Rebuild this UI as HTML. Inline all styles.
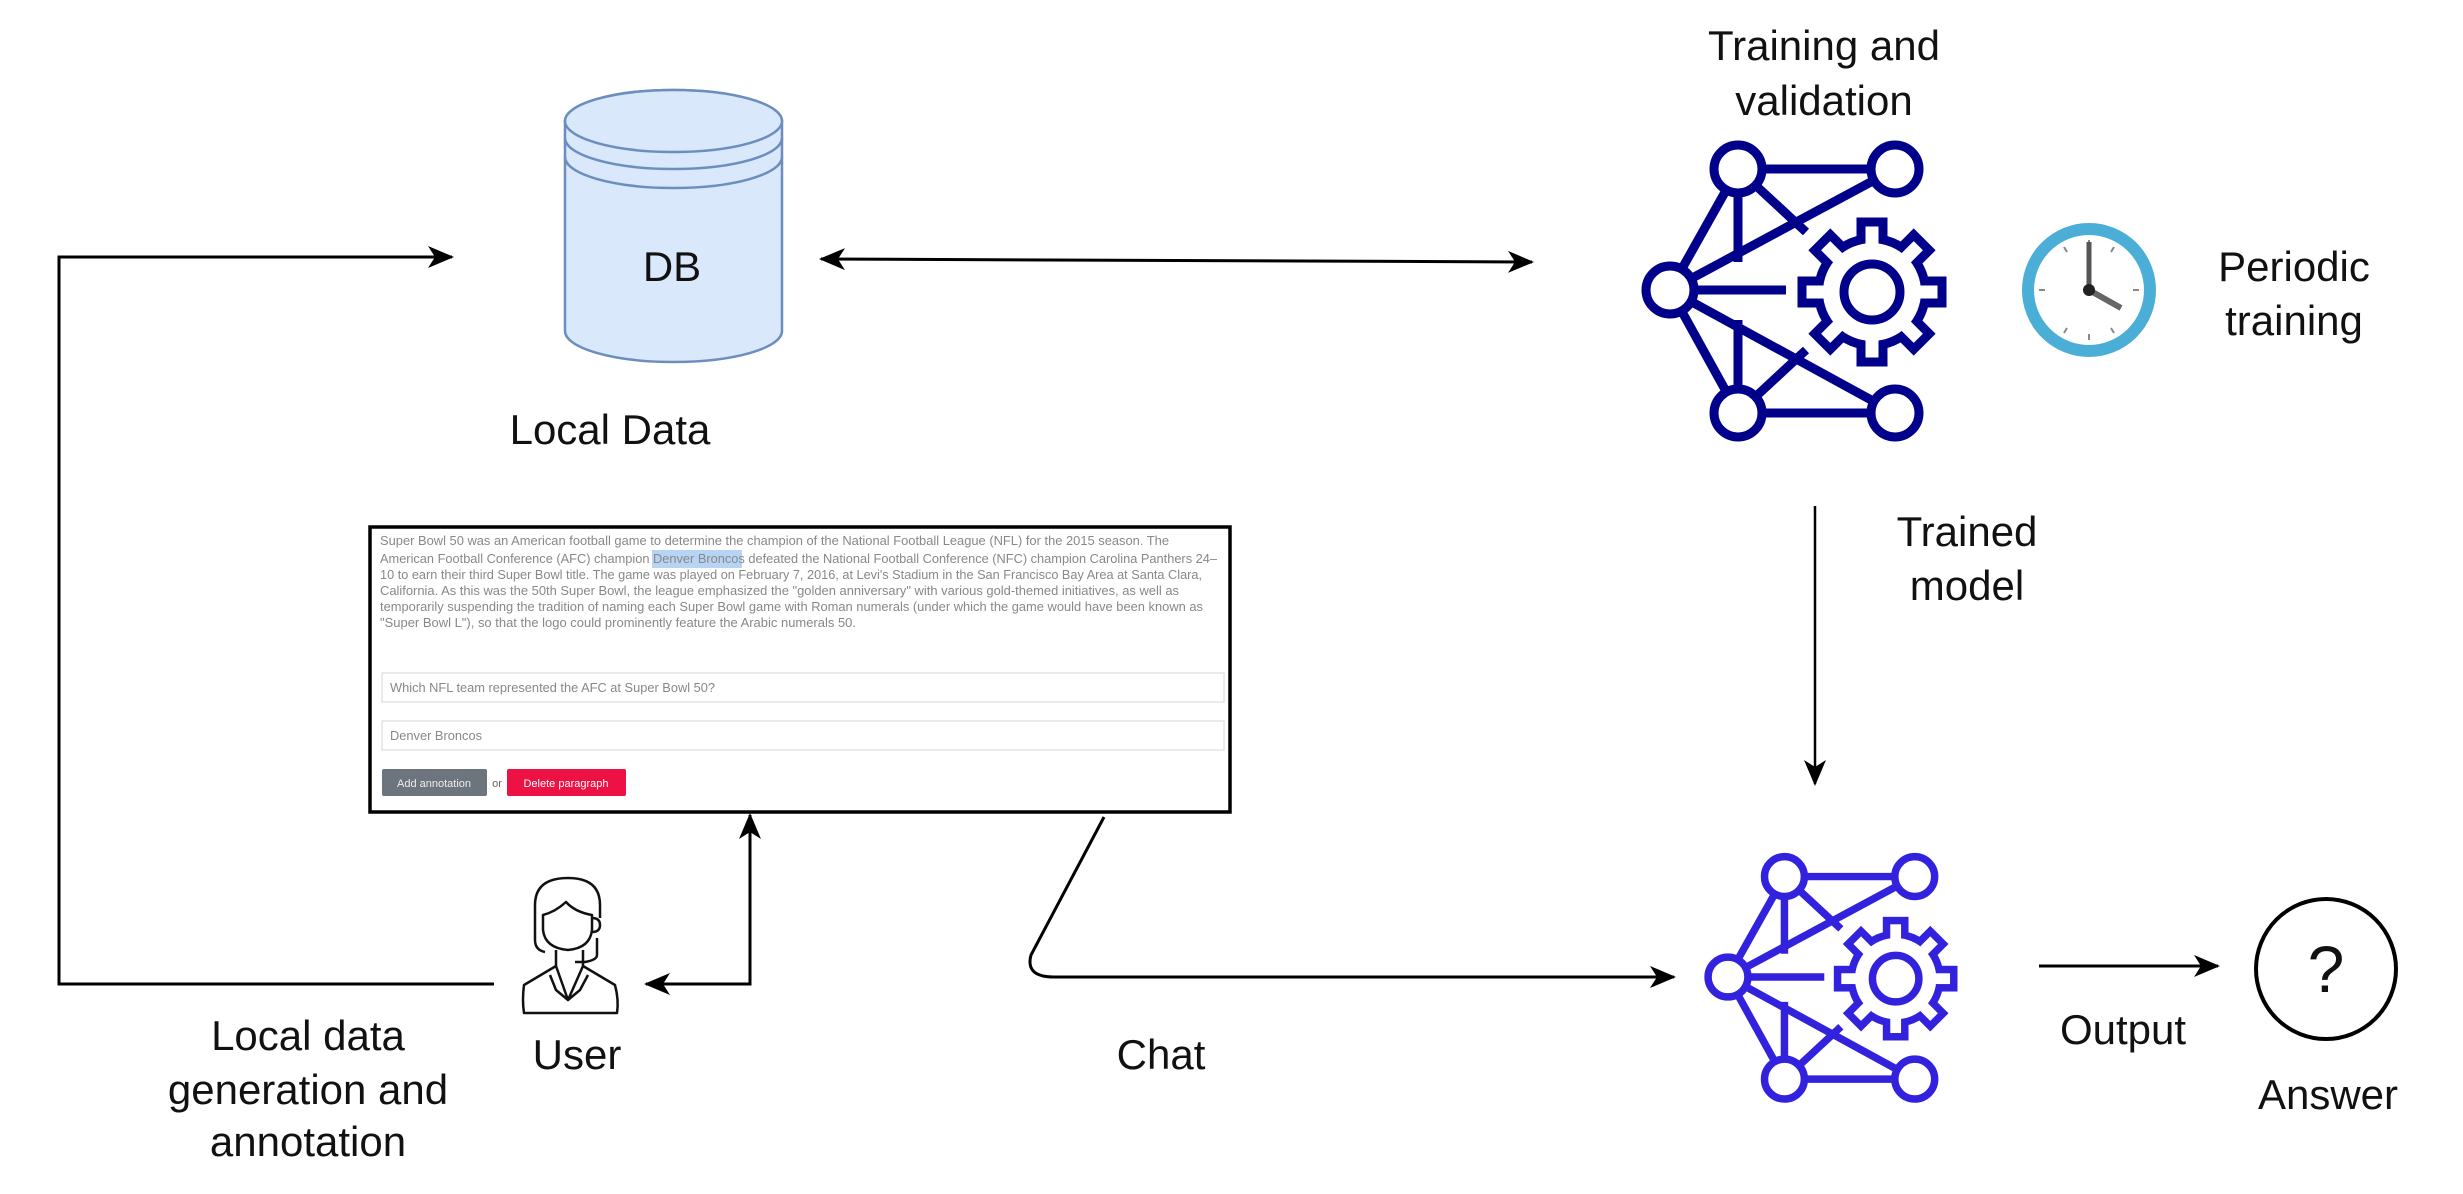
<!DOCTYPE html>
<html><head><meta charset="utf-8">
<style>
html,body{margin:0;padding:0;background:#fff;}
svg{display:block;}
.t{font-family:"Liberation Sans Narrow","Liberation Sans",sans-serif;font-size:42px;fill:#111;text-anchor:middle;}
.s{font-family:"Liberation Sans",sans-serif;font-size:12.5px;fill:#888;}
</style></head>
<body>
<svg width="2463" height="1194" viewBox="0 0 2463 1194" xmlns="http://www.w3.org/2000/svg">
<defs>
<marker id="ah" markerWidth="10" markerHeight="10" refX="9" refY="5" orient="auto-start-reverse" markerUnits="userSpaceOnUse" viewBox="0 0 10 10">
<path d="M0,0 L10,5 L0,10 L3,5 Z" fill="#000"/>
</marker>
<marker id="ahb" markerWidth="26" markerHeight="26" refX="24" refY="13" orient="auto-start-reverse" markerUnits="userSpaceOnUse" viewBox="0 0 26 26">
<path d="M0,2 L26,13 L0,24 L7,13 Z" fill="#000"/>
</marker>
<g id="net">
 <g stroke="currentColor" stroke-width="9" fill="none" stroke-linecap="butt">
  <line x1="1738" y1="169" x2="1895" y2="169"/>
  <line x1="1738" y1="413" x2="1895" y2="413"/>
  <line x1="1670" y1="290" x2="1738" y2="169"/>
  <line x1="1670" y1="290" x2="1738" y2="413"/>
  <line x1="1670" y1="290" x2="1895" y2="169"/>
  <line x1="1670" y1="290" x2="1895" y2="413"/>
  <line x1="1738" y1="169" x2="1738" y2="262"/>
  <line x1="1738" y1="413" x2="1738" y2="320"/>
  <line x1="1738" y1="169" x2="1806" y2="232"/>
  <line x1="1738" y1="413" x2="1806" y2="350"/>
  <line x1="1670" y1="290" x2="1786" y2="290"/>
 </g>
 <g fill="#fff" stroke="currentColor" stroke-width="9">
  <circle cx="1670" cy="290" r="24"/>
  <circle cx="1738" cy="169" r="24"/>
  <circle cx="1895" cy="169" r="24"/>
  <circle cx="1738" cy="413" r="24"/>
  <circle cx="1895" cy="413" r="24"/>
 </g>
 <g transform="translate(1872,292)">
  <g fill="currentColor">
   <circle r="58"/>
   <rect x="-15.5" y="-74.5" width="31" height="35" transform="rotate(0)"/>
   <rect x="-15.5" y="-74.5" width="31" height="35" transform="rotate(45)"/>
   <rect x="-15.5" y="-74.5" width="31" height="35" transform="rotate(90)"/>
   <rect x="-15.5" y="-74.5" width="31" height="35" transform="rotate(135)"/>
   <rect x="-15.5" y="-74.5" width="31" height="35" transform="rotate(180)"/>
   <rect x="-15.5" y="-74.5" width="31" height="35" transform="rotate(225)"/>
   <rect x="-15.5" y="-74.5" width="31" height="35" transform="rotate(270)"/>
   <rect x="-15.5" y="-74.5" width="31" height="35" transform="rotate(315)"/>
  </g>
  <g fill="#fff">
   <circle r="49"/>
   <rect x="-6.5" y="-65.5" width="13" height="30" transform="rotate(0)"/>
   <rect x="-6.5" y="-65.5" width="13" height="30" transform="rotate(45)"/>
   <rect x="-6.5" y="-65.5" width="13" height="30" transform="rotate(90)"/>
   <rect x="-6.5" y="-65.5" width="13" height="30" transform="rotate(135)"/>
   <rect x="-6.5" y="-65.5" width="13" height="30" transform="rotate(180)"/>
   <rect x="-6.5" y="-65.5" width="13" height="30" transform="rotate(225)"/>
   <rect x="-6.5" y="-65.5" width="13" height="30" transform="rotate(270)"/>
   <rect x="-6.5" y="-65.5" width="13" height="30" transform="rotate(315)"/>
  </g>
  <circle r="28" fill="none" stroke="currentColor" stroke-width="9"/>
 </g>
</g>
</defs>

<!-- DB cylinder -->
<g stroke="#6c8ebf" stroke-width="2.5" fill="#dae8fc">
 <path d="M565,121 L565,331 A108.5,31 0 0 0 782,331 L782,121 A108.5,31 0 0 0 565,121 Z"/>
 <ellipse cx="673.5" cy="121" rx="108.5" ry="31"/>
 <path d="M565,138 A108.5,31 0 0 0 782,138" fill="none"/>
 <path d="M565,157 A108.5,31 0 0 0 782,157" fill="none"/>
</g>
<text x="672" y="281" style="font-family:'Liberation Sans',sans-serif;font-size:42px;text-anchor:middle;fill:#111">DB</text>
<text class="t" x="610" y="444">Local Data</text>

<!-- left loop connector -->
<polyline points="494,984 59,984 59,257 452,257" fill="none" stroke="#000" stroke-width="3" marker-end="url(#ahb)"/>
<!-- DB <-> training -->
<line x1="821" y1="259" x2="1532" y2="262" stroke="#000" stroke-width="3" marker-start="url(#ahb)" marker-end="url(#ahb)"/>

<!-- top network -->
<use href="#net" style="color:#00008b"/>
<text class="t" x="1824" y="60">Training and</text>
<text class="t" x="1824" y="115">validation</text>

<!-- clock -->
<circle cx="2089" cy="290" r="61" fill="#fff" stroke="#4aaed6" stroke-width="12"/>
<g stroke="#888" stroke-width="2">
 <line x1="2089" y1="240" x2="2089" y2="246"/><line x1="2089" y1="334" x2="2089" y2="340"/>
 <line x1="2039" y1="290" x2="2045" y2="290"/><line x1="2133" y1="290" x2="2139" y2="290"/>
 <line x1="2064" y1="247" x2="2067" y2="252"/><line x1="2114" y1="247" x2="2111" y2="252"/>
 <line x1="2064" y1="333" x2="2067" y2="328"/><line x1="2114" y1="333" x2="2111" y2="328"/>
</g>
<line x1="2089" y1="290" x2="2089" y2="242" stroke="#555" stroke-width="5"/>
<line x1="2089" y1="290" x2="2121" y2="308" stroke="#666" stroke-width="6"/>
<circle cx="2089" cy="290" r="6" fill="#222"/>
<text class="t" x="2294" y="281">Periodic</text>
<text class="t" x="2294" y="335">training</text>

<!-- trained model arrow -->
<line x1="1815" y1="506" x2="1815" y2="784" stroke="#000" stroke-width="2.5" marker-end="url(#ahb)"/>
<text class="t" x="1967" y="546">Trained</text>
<text class="t" x="1967" y="600">model</text>

<!-- bottom network -->
<g transform="translate(1728,977) scale(0.83) translate(-1670,-290)">
 <use href="#net" style="color:#3322dd"/>
</g>

<!-- output -->
<line x1="2039" y1="966" x2="2218" y2="966" stroke="#000" stroke-width="3" marker-end="url(#ahb)"/>
<text class="t" x="2123" y="1044">Output</text>
<circle cx="2326" cy="969" r="70" fill="none" stroke="#000" stroke-width="4"/>
<text x="2326" y="992" style="font-family:'Liberation Sans',sans-serif;font-size:66px;text-anchor:middle;fill:#111">?</text>
<text class="t" x="2328" y="1109">Answer</text>

<!-- screenshot box -->
<rect x="370" y="527" width="860" height="285" fill="#fff" stroke="#000" stroke-width="3.5"/>
<rect x="652" y="550" width="90" height="18" fill="#b8d4f5"/>
<g class="s">
<text x="380" y="545" textLength="789" lengthAdjust="spacingAndGlyphs">Super Bowl 50 was an American football game to determine the champion of the National Football League (NFL) for the 2015 season. The</text>
<text x="380" y="563" textLength="837" lengthAdjust="spacingAndGlyphs">American Football Conference (AFC) champion Denver Broncos defeated the National Football Conference (NFC) champion Carolina Panthers 24–</text>
<text x="380" y="579" textLength="822" lengthAdjust="spacingAndGlyphs">10 to earn their third Super Bowl title. The game was played on February 7, 2016, at Levi's Stadium in the San Francisco Bay Area at Santa Clara,</text>
<text x="380" y="595" textLength="799" lengthAdjust="spacingAndGlyphs">California. As this was the 50th Super Bowl, the league emphasized the "golden anniversary" with various gold-themed initiatives, as well as</text>
<text x="380" y="611" textLength="823" lengthAdjust="spacingAndGlyphs">temporarily suspending the tradition of naming each Super Bowl game with Roman numerals (under which the game would have been known as</text>
<text x="380" y="627" textLength="476" lengthAdjust="spacingAndGlyphs">"Super Bowl L"), so that the logo could prominently feature the Arabic numerals 50.</text>
</g>
<rect x="382" y="673" width="842" height="29" fill="#fff" stroke="#e4e4e4" stroke-width="1.5"/>
<text class="s" x="390" y="692" textLength="325" lengthAdjust="spacingAndGlyphs">Which NFL team represented the AFC at Super Bowl 50?</text>
<rect x="382" y="721" width="842" height="29" fill="#fff" stroke="#e4e4e4" stroke-width="1.5"/>
<text class="s" x="390" y="740" textLength="92" lengthAdjust="spacingAndGlyphs">Denver Broncos</text>
<rect x="382" y="769" width="105" height="27" rx="2" fill="#6c757d"/>
<text x="434" y="787" style="font-family:'Liberation Sans',sans-serif;font-size:11px;fill:#eee;text-anchor:middle">Add annotation</text>
<text x="497" y="787" style="font-family:'Liberation Sans',sans-serif;font-size:11px;fill:#666;text-anchor:middle">or</text>
<rect x="507" y="769" width="119" height="27" rx="2" fill="#ee1144"/>
<text x="566" y="787" style="font-family:'Liberation Sans',sans-serif;font-size:11px;fill:#fff;text-anchor:middle">Delete paragraph</text>

<!-- user <-> screenshot -->
<polyline points="646,984 750,984 750,815" fill="none" stroke="#000" stroke-width="3" marker-start="url(#ahb)" marker-end="url(#ahb)"/>

<!-- user icon -->
<g fill="none" stroke="#111" stroke-width="2.5" stroke-linejoin="round">
 <path d="M545,952 Q535,950 535,940 L535,905 Q535,878 568,878 Q600,878 600,905 L600,918"/>
 <path d="M543,915 Q555,912 566,902 Q575,912 592,915 L592,930 Q590,948 568,950 Q545,948 543,930 Z"/>
 <path d="M592,918 Q600,918 600,925 Q600,932 592,932"/>
 <path d="M597,938 L597,955 Q597,960 585,962 L575,962"/>
 <path d="M556,950 L556,966 L524,985 Q522,1000 524,1013 L617,1013 Q619,1000 615,985 L583,966 L583,950"/>
 <path d="M556,966 L568,1000 L583,966"/>
 <path d="M550,975 L556,990 L568,1000 L580,990 L588,975"/>
</g>
<text class="t" x="577" y="1069">User</text>

<text class="t" x="308" y="1050">Local data</text>
<text class="t" x="308" y="1104">generation and</text>
<text class="t" x="308" y="1156">annotation</text>

<!-- chat connector -->
<path d="M1104,817 L1031,955 Q1025,977 1054,977 L1674,977" fill="none" stroke="#000" stroke-width="3" marker-end="url(#ahb)"/>
<text class="t" x="1161" y="1069">Chat</text>
</svg>
</body></html>
